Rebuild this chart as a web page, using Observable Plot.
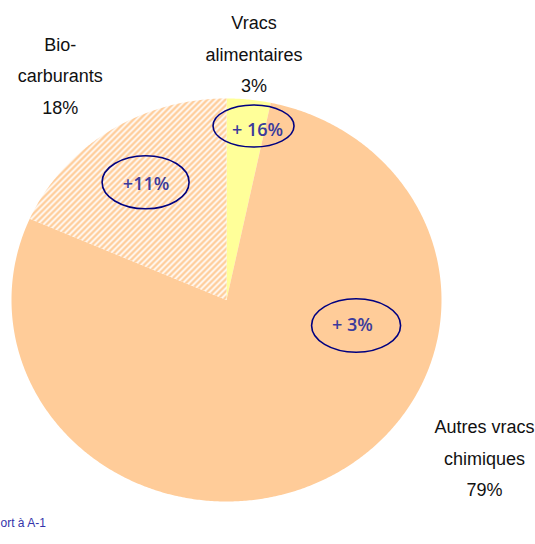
<!DOCTYPE html>
<html><head><meta charset="utf-8">
<script src="https://cdn.jsdelivr.net/npm/d3@7"></script>
<script src="https://cdn.jsdelivr.net/npm/@observablehq/plot@0.6"></script>
<style>body{margin:0;background:#fff}</style>
</head><body><div id="chart"></div>
<script>
// ---- data ----
const categories = ["Vracs alimentaires", "Autres vracs chimiques", "Bio-carburants"];
const labelTexts = ["Vracs\nalimentaires", "Autres vracs\nchimiques", "Bio-\ncarburants"];
const shares = [3.3, 78.3, 18.4];
const shareLabels = ["3%", "79%", "18%"];
const changes = ["+ 16%", "+ 3%", "+11%"];
const footnote = "ort à A-1";

// ---- layout / style ----
const fills = ["#FFFF99", "#FFCC99", "url(#hatch)"];
const labelPos = [[0.128, 1.238], [1.2, -0.767], [-0.773, 1.13]];
const ellipsePos = [[0.128, 0.861], [0.605, -0.129], [-0.374, 0.582]];
const changeTextPos = [[0.144, 0.844], [0.586, -0.127], [-0.374, 0.577]];
const ellipseR = [[40.5, 21], [44.5, 26.7], [43.5, 26.5]];

const total = d3.sum(shares);
let cum = 0;
const slices = shares.map((v, i) => {
  const a0 = cum / total * 2 * Math.PI; cum += v; const a1 = cum / total * 2 * Math.PI;
  const n = Math.max(2, Math.ceil((a1 - a0) / (Math.PI / 360)));
  const pts = [{x: 0, y: 0}];
  for (let k = 0; k <= n; k++) { const a = a0 + (a1 - a0) * k / n; pts.push({x: Math.sin(a), y: Math.cos(a)}); }
  pts.push({x: 0, y: 0});
  return pts;
});

const defs = () => {
  const d = d3.create("svg:defs");
  const p = d.append("pattern").attr("id", "hatch").attr("patternUnits", "userSpaceOnUse").attr("width", 6).attr("height", 6);
  p.append("rect").attr("width", 6).attr("height", 6).attr("fill", "#fff");
  p.append("path").attr("d", "M-1.5,1.5L1.5,-1.5M0,6L6,0M4.5,7.5L7.5,4.5").attr("stroke", "#FFCC99").attr("stroke-width", 2.5);
  return d.node();
};

const ellipses = (index, {x, y}) => {
  const g = d3.create("svg:g");
  changes.forEach((c, i) => {
    g.append("ellipse").attr("cx", x(ellipsePos[i][0])).attr("cy", y(ellipsePos[i][1]))
      .attr("rx", ellipseR[i][0]).attr("ry", ellipseR[i][1])
      .attr("fill", "none").attr("stroke", "#000080").attr("stroke-width", 1.6);
  });
  return g.node();
};

const idx = d3.range(categories.length);
const chart = Plot.plot({
  width: 535, height: 544,
  marginLeft: 11, marginRight: 94, marginTop: 98, marginBottom: 43,
  x: {domain: [-1, 1], axis: null},
  y: {domain: [-1, 1], axis: null},
  style: {overflow: "visible", background: "#fff"},
  marks: [
    defs,
    ...slices.map((pts, i) => Plot.line(pts, {x: "x", y: "y", fill: fills[i], stroke: "none"})),
    ellipses,
    Plot.text(idx, {
      x: i => changeTextPos[i][0], y: i => changeTextPos[i][1], text: i => changes[i],
      fill: "#3B3B9C", fontSize: 18, fontWeight: 600, fontFamily: "Open Sans, sans-serif"
    }),
    Plot.text(idx, {
      x: i => labelPos[i][0], y: i => labelPos[i][1], text: i => labelTexts[i] + "\n" + shareLabels[i],
      fill: "#111", fontSize: 18, lineHeight: 1.75, fontFamily: "Liberation Sans, Arial, sans-serif"
    }),
    Plot.text([footnote], {
      frameAnchor: "bottom-left", dx: -11, dy: 25, textAnchor: "start", text: d => d,
      fill: "#3333AA", fontSize: 12, fontFamily: "Liberation Sans, Arial, sans-serif"
    })
  ]
});
document.getElementById("chart").appendChild(chart);
</script>
</body></html>
